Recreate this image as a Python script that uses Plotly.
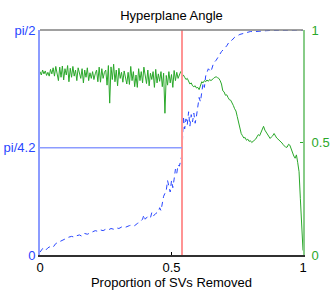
import math
import plotly.graph_objects as go

# ---- data ----
green_x = [
    0.000, 0.005, 0.010, 0.015, 0.020, 0.025, 0.030, 0.035, 0.040, 0.045,
    0.050, 0.055, 0.060, 0.065, 0.070, 0.075, 0.080, 0.085, 0.090, 0.095,
    0.100, 0.105, 0.110, 0.115, 0.120, 0.125, 0.130, 0.135, 0.140, 0.145,
    0.150, 0.155, 0.160, 0.165, 0.170, 0.175, 0.180, 0.185, 0.190, 0.195,
    0.200, 0.205, 0.210, 0.215, 0.220, 0.225, 0.230, 0.235, 0.240, 0.245,
    0.250, 0.255, 0.260, 0.265, 0.270, 0.275, 0.280, 0.285, 0.290, 0.295,
    0.300, 0.305, 0.310, 0.315, 0.320, 0.325, 0.330, 0.335, 0.340, 0.345,
    0.350, 0.355, 0.360, 0.365, 0.370, 0.375, 0.380, 0.385, 0.390, 0.395,
    0.400, 0.405, 0.410, 0.415, 0.420, 0.425, 0.430, 0.435, 0.440, 0.445,
    0.450, 0.455, 0.460, 0.465, 0.470, 0.475, 0.480, 0.485, 0.490, 0.495,
    0.500, 0.505, 0.510, 0.515, 0.520, 0.525, 0.530, 0.535, 0.540, 0.545,
    0.550, 0.555, 0.560, 0.565, 0.570, 0.575, 0.580, 0.585, 0.590, 0.595,
    0.600, 0.605, 0.610, 0.615, 0.620, 0.625, 0.630, 0.635, 0.640, 0.645,
    0.650, 0.655, 0.660, 0.665, 0.670, 0.675, 0.680, 0.685, 0.690, 0.695,
    0.700, 0.705, 0.710, 0.715, 0.720, 0.725, 0.730, 0.735, 0.740, 0.745,
    0.750, 0.755, 0.760, 0.765, 0.770, 0.775, 0.780, 0.785, 0.790, 0.795,
    0.800, 0.805, 0.810, 0.815, 0.820, 0.825, 0.830, 0.835, 0.840, 0.845,
    0.850, 0.855, 0.860, 0.865, 0.870, 0.875, 0.880, 0.885, 0.890, 0.895,
    0.900, 0.905, 0.910, 0.915, 0.920, 0.925, 0.930, 0.935, 0.940, 0.945,
    0.950, 0.955, 0.960, 0.965, 0.970, 0.975, 0.980, 0.985, 0.990, 0.995,
    1.000,
]
green_y = [
    0.815, 0.800, 0.822, 0.805, 0.818, 0.798, 0.812, 0.795, 0.825, 0.805,
    0.832, 0.795, 0.838, 0.810, 0.775, 0.835, 0.790, 0.840, 0.778, 0.828,
    0.800, 0.842, 0.770, 0.830, 0.790, 0.838, 0.795, 0.822, 0.775, 0.832,
    0.800, 0.785, 0.828, 0.765, 0.822, 0.790, 0.832, 0.775, 0.810, 0.785,
    0.815, 0.780, 0.805, 0.822, 0.770, 0.835, 0.768, 0.828, 0.785, 0.812,
    0.822, 0.755, 0.842, 0.675, 0.836, 0.780, 0.848, 0.770, 0.822, 0.752,
    0.830, 0.785, 0.812, 0.768, 0.818, 0.795, 0.760, 0.812, 0.758, 0.838,
    0.775, 0.815, 0.748, 0.800, 0.745, 0.828, 0.775, 0.815, 0.765, 0.835,
    0.790, 0.762, 0.822, 0.752, 0.808, 0.780, 0.815, 0.745, 0.825, 0.765,
    0.805, 0.772, 0.815, 0.748, 0.808, 0.630, 0.798, 0.755, 0.815, 0.765,
    0.802, 0.745, 0.820, 0.775, 0.812, 0.785, 0.800, 0.815, 0.805, 0.800,
    0.790, 0.780, 0.785, 0.770, 0.760, 0.765, 0.752, 0.748, 0.752, 0.742,
    0.745, 0.735, 0.758, 0.770, 0.765, 0.775, 0.770, 0.778, 0.772, 0.780,
    0.775, 0.782, 0.785, 0.790, 0.792, 0.788, 0.785, 0.775, 0.760, 0.730,
    0.725, 0.710, 0.712, 0.700, 0.690, 0.688, 0.672, 0.665, 0.650, 0.640,
    0.615, 0.590, 0.560, 0.540, 0.530, 0.520, 0.522, 0.510, 0.515, 0.505,
    0.508, 0.500, 0.505, 0.510, 0.515, 0.525, 0.535, 0.530, 0.545, 0.560,
    0.572, 0.555, 0.545, 0.538, 0.530, 0.518, 0.525, 0.530, 0.540, 0.528,
    0.520, 0.515, 0.510, 0.505, 0.498, 0.490, 0.482, 0.478, 0.480, 0.492,
    0.488, 0.470, 0.462, 0.440, 0.430, 0.445, 0.410, 0.370, 0.250, 0.150,
    0.020,
]

blue_x = [
    0.00, 0.01, 0.02, 0.03, 0.04, 0.05, 0.06, 0.07, 0.08, 0.09,
    0.10, 0.11, 0.12, 0.13, 0.14, 0.15, 0.16, 0.17, 0.18, 0.19,
    0.20, 0.21, 0.22, 0.23, 0.24, 0.25, 0.26, 0.27, 0.28, 0.29,
    0.30, 0.31, 0.32, 0.33, 0.34, 0.35, 0.36, 0.37, 0.38, 0.39,
    0.395, 0.40, 0.41, 0.42, 0.425, 0.43, 0.44, 0.45, 0.455, 0.46,
    0.465, 0.47, 0.48, 0.485, 0.49, 0.495, 0.50, 0.505, 0.51, 0.515,
    0.52, 0.525, 0.53, 0.535, 0.54, 0.545, 0.55, 0.555, 0.56, 0.565,
    0.57, 0.575, 0.58, 0.585, 0.59, 0.595, 0.60, 0.605, 0.61, 0.62,
    0.625, 0.63, 0.64, 0.65, 0.66, 0.67, 0.68, 0.69, 0.70, 0.71,
    0.72, 0.73, 0.74, 0.75, 0.76, 0.78, 0.80, 0.82, 0.84, 0.86,
    0.88, 0.90, 0.92, 0.95, 1.00,
]
blue_y = [
    0.020, 0.045, 0.030, 0.050, 0.060, 0.055, 0.080, 0.090, 0.100, 0.105,
    0.120, 0.125, 0.130, 0.125, 0.135, 0.140, 0.130, 0.150, 0.145, 0.155,
    0.160, 0.170, 0.165, 0.175, 0.170, 0.180, 0.175, 0.185, 0.180, 0.190,
    0.185, 0.195, 0.190, 0.200, 0.205, 0.210, 0.205, 0.220, 0.230, 0.250,
    0.280, 0.250, 0.270, 0.260, 0.295, 0.270, 0.290, 0.300, 0.330, 0.310,
    0.370, 0.410, 0.450, 0.520, 0.480, 0.440, 0.520, 0.470, 0.530, 0.600,
    0.570, 0.630, 0.620, 0.660, 0.700, 0.970, 0.880, 0.950, 0.910, 1.000,
    0.900, 0.980, 0.930, 0.990, 0.920, 0.970, 1.050, 1.100, 1.070, 1.200,
    1.170, 1.250, 1.300, 1.280, 1.340, 1.360, 1.390, 1.420, 1.440, 1.460,
    1.490, 1.500, 1.520, 1.530, 1.540, 1.550, 1.560, 1.560, 1.565, 1.566,
    1.568, 1.569, 1.570, 1.5708, 1.5708,
]

cut_x = 0.54
ref_angle = math.pi / 4.2
left_ticks = [0, math.pi / 4.2, math.pi / 2]
left_labels = ["0", "pi/4.2", "pi/2"]
right_ticks = [0, 0.5, 1]
right_labels = ["0", "0.5", "1"]
x_ticks = [0, 0.5, 1]
x_labels = ["0", "0.5", "1"]

BLUE = "#2846ff"
BLUE_LIGHT = "#8c9cff"
GREEN = "#2aa82a"
GREEN_LIGHT = "#88cc88"
RED_LIGHT = "#ff9494"
FONT = "Liberation Sans, Arial, sans-serif"

fig = go.Figure()

fig.add_trace(go.Scatter(
    x=blue_x, y=blue_y, mode="lines", yaxis="y",
    line=dict(color=BLUE, width=1, dash="5px,4px"), showlegend=False,
))
fig.add_trace(go.Scatter(
    x=green_x, y=green_y, mode="lines", yaxis="y2",
    line=dict(color=GREEN, width=1), showlegend=False,
))

# reference lines
fig.add_shape(type="line", xref="x", yref="paper", x0=cut_x, x1=cut_x, y0=0, y1=1,
              line=dict(color=RED_LIGHT, width=2), layer="above")
fig.add_shape(type="line", xref="x", yref="y", x0=0, x1=cut_x, y0=ref_angle, y1=ref_angle,
              line=dict(color=BLUE_LIGHT, width=1.5), layer="above")
# top border
fig.add_shape(type="line", xref="paper", yref="paper", x0=0, x1=1, y0=1, y1=1,
              line=dict(color="#808080", width=1.5), layer="above")

fig.update_layout(
    width=332, height=301,
    margin=dict(l=40, r=29, t=30, b=46, autoexpand=False),
    paper_bgcolor="white", plot_bgcolor="white",
    font=dict(family=FONT, size=12, color="black"),
    title=dict(text="Hyperplane Angle", x=0.5166, xanchor="center",
               y=1 - 15 / 301, yanchor="middle", yref="container",
               font=dict(family=FONT, size=13, color="black")),
    xaxis=dict(
        range=[0, 1], tickvals=x_ticks, ticktext=x_labels, automargin=False,
        showgrid=False, zeroline=False,
        showline=True, linecolor="#303030", linewidth=1.5,
        ticks="inside", ticklen=3, tickcolor="black",
        tickfont=dict(family=FONT, size=13, color="black"),
        title=dict(text="Proportion of SVs Removed", font=dict(family=FONT, size=13, color="black"), standoff=2),
    ),
    yaxis=dict(
        range=[0, math.pi / 2], tickvals=left_ticks, ticktext=left_labels, automargin=False,
        showgrid=False, zeroline=False,
        showline=True, linecolor=BLUE_LIGHT, linewidth=2,
        ticks="", ticklabelstandoff=0,
        tickfont=dict(family=FONT, size=13, color=BLUE),
    ),
    yaxis2=dict(
        range=[0, 1], tickvals=right_ticks, ticktext=right_labels, automargin=False,
        overlaying="y", side="right",
        showgrid=False, zeroline=False,
        showline=True, linecolor=GREEN_LIGHT, linewidth=2,
        ticks="inside", ticklen=3, tickcolor=GREEN, ticklabelstandoff=4,
        tickfont=dict(family=FONT, size=13, color=GREEN),
    ),
)

fig.write_html(
    "out.html",
    config={"displayModeBar": False},
    post_script="document.body.style.margin='0';document.body.style.overflow='hidden';",
)
